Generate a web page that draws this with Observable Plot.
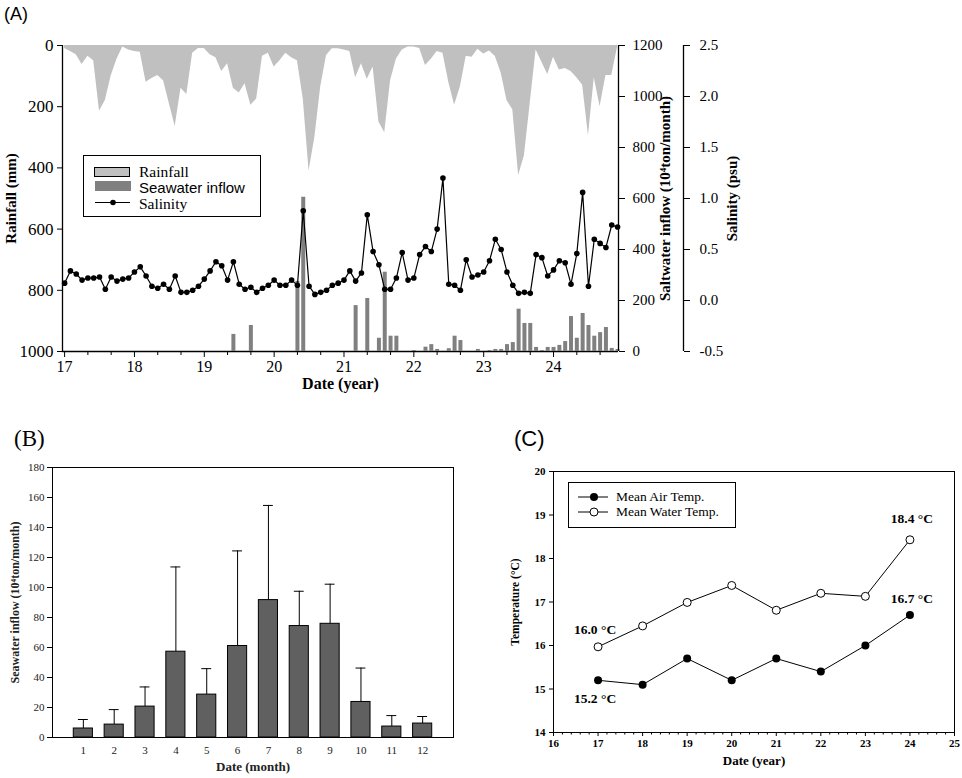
<!DOCTYPE html>
<html>
<head>
<meta charset="utf-8">
<script src="https://cdn.jsdelivr.net/npm/d3@7"></script>
<script src="https://cdn.jsdelivr.net/npm/@observablehq/plot@0.6"></script>
<style>
  html, body { margin: 0; padding: 0; background: #fff; }
  #root { position: relative; width: 962px; height: 778px; overflow: hidden; font-family: "Liberation Serif", "Times New Roman", serif; }
  .abs { position: absolute; }
  .lbl { position: absolute; white-space: nowrap; line-height: 1; }
  .serif { font-family: "Liberation Serif", "Times New Roman", serif; }
  .sans { font-family: "Liberation Sans", Arial, sans-serif; }
  .legend { z-index: 10; }
</style>
</head>
<body>
<div id="root">
  <div class="lbl sans" style="left:4px; top:5px; font-size:18px;">(A)</div>
  <div class="lbl serif" style="left:14px; top:427px; font-size:23px;">(B)</div>
  <div class="lbl sans" style="left:514px; top:428px; font-size:22px;">(C)</div>

  <!-- Panel A legend -->
  <div class="abs legend" style="left:83px; top:155px; width:176px; height:60px; border:1px solid #000; background:#fff;">
    <div class="abs" style="left:10px; top:11px; width:34px; height:8px; background:#c0c0c0; border:1px solid #000;"></div>
    <div class="lbl serif" style="left:55px; top:8px; font-size:15.5px;">Rainfall</div>
    <div class="abs" style="left:11px; top:25px; width:36px; height:10px; background:#808080;"></div>
    <div class="lbl sans" style="left:55px; top:24px; font-size:15px;">Seawater inflow</div>
    <svg class="abs" style="left:11px; top:42px;" width="36" height="9"><line x1="0" y1="4.5" x2="35" y2="4.5" stroke="#000" stroke-width="1.2"/><circle cx="18" cy="4.5" r="2.8" fill="#000"/></svg>
    <div class="lbl serif" style="left:55px; top:40px; font-size:15.5px;">Salinity</div>
  </div>

  <!-- Panel C legend -->
  <div class="abs legend" style="left:568px; top:482px; width:166px; height:44px; border:1px solid #000; background:#fff;">
    <svg class="abs" style="left:9px; top:9px;" width="32" height="10"><line x1="0" y1="5" x2="30" y2="5" stroke="#000" stroke-width="1"/><circle cx="16" cy="5" r="4" fill="#000"/></svg>
    <div class="lbl serif" style="left:47px; top:7px; font-size:13.5px;">Mean Air Temp.</div>
    <svg class="abs" style="left:9px; top:24px;" width="32" height="10"><line x1="0" y1="5" x2="30" y2="5" stroke="#000" stroke-width="1"/><circle cx="16" cy="5" r="4" fill="#fff" stroke="#000" stroke-width="1"/></svg>
    <div class="lbl serif" style="left:47px; top:22px; font-size:13.5px;">Mean Water Temp.</div>
  </div>
</div>
<script>
// ---------------- DATA ----------------
// Panel A: monthly series, Jan 2017 .. Dec 2024
const startYear = 17;
const rainfall = [
  10,20,30,62,35,50,215,180,100,45,5,15,
  20,22,120,108,98,115,190,265,140,160,25,10,
  10,30,40,85,60,140,155,125,195,175,35,25,
  70,50,25,40,50,175,410,300,136,33,11,11,
  15,20,105,60,110,70,250,285,115,45,15,5,
  5,10,65,45,20,25,120,195,135,35,38,12,
  28,18,36,90,180,210,425,360,188,15,55,95,
  38,80,75,85,105,130,295,105,200,98,98,5
];
const seawaterInflow = [
  0,0,0,0,0,0,0,0,0,0,0,0,
  0,0,0,0,0,0,0,0,0,0,0,0,
  0,0,0,0,0,67,0,0,102,0,0,0,
  0,0,0,0,275,605,0,0,0,0,0,0,
  0,0,180,0,208,0,52,311,60,60,0,0,
  4,0,17,27,8,0,11,60,43,0,0,8,
  0,4,8,8,27,35,166,110,110,16,4,16,
  16,24,39,137,52,149,102,60,74,94,12,8
];
const salinity = [
  0.17,0.29,0.26,0.20,0.22,0.22,0.23,0.11,0.23,0.19,0.21,0.22,
  0.28,0.33,0.24,0.14,0.12,0.16,0.11,0.24,0.08,0.08,0.10,0.14,
  0.21,0.29,0.38,0.34,0.20,0.38,0.16,0.11,0.13,0.08,0.12,0.15,
  0.20,0.15,0.15,0.20,0.15,0.88,0.14,0.06,0.08,0.10,0.15,0.17,
  0.20,0.29,0.19,0.27,0.84,0.48,0.35,0.11,0.11,0.22,0.47,0.20,
  0.22,0.45,0.53,0.48,0.70,1.20,0.16,0.15,0.10,0.40,0.23,0.25,
  0.28,0.39,0.60,0.50,0.28,0.15,0.07,0.08,0.07,0.45,0.42,0.24,
  0.30,0.39,0.37,0.16,0.46,1.06,0.14,0.60,0.56,0.52,0.74,0.72
];
const yearTicksA = [17,18,19,20,21,22,23,24];
const rainTicks = [0,200,400,600,800,1000];
const inflowTicks = [0,200,400,600,800,1000,1200];
const salinityTicks = [-0.5,0.0,0.5,1.0,1.5,2.0,2.5];

// Panel B: monthly mean seawater inflow and SD
const monthsB = [1,2,3,4,5,6,7,8,9,10,11,12];
const meanInflow = [6.0,8.6,20.6,57.2,28.6,61.0,91.6,74.3,75.8,23.7,7.3,9.3];
const sdInflow = [6.0,10.0,13.1,56.5,17.3,63.4,63.1,23.2,26.4,22.6,7.3,4.7];
const inflowTicksB = [0,20,40,60,80,100,120,140,160,180];

// Panel C: annual mean temperatures
const yearsC = [17,18,19,20,21,22,23,24];
const airTemp = [15.2,15.1,15.7,15.2,15.7,15.4,16.0,16.7];
const waterTemp = [15.97,16.45,16.99,17.38,16.81,17.2,17.13,18.43];
const yearTicksC = [16,17,18,19,20,21,22,23,24,25];
const tempTicks = [14,15,16,17,18,19,20];
const tempLabels = [
  {year:17, temp:15.97, text:"16.0 °C", dy:-17, dx:-3},
  {year:17, temp:15.2, text:"15.2 °C", dy:18, dx:-3},
  {year:24, temp:18.43, text:"18.4 °C", dy:-21, dx:2},
  {year:24, temp:16.71, text:"16.7 °C", dy:-16, dx:2}
];

// ---------------- BUILD ----------------
const serif = "'Liberation Serif', 'Times New Roman', serif";
const root = document.getElementById("root");
function place(svg, left, top, z) {
  svg.style.position = "absolute";
  svg.style.left = left + "px";
  svg.style.top = top + "px";
  svg.style.background = "transparent";
  svg.style.maxWidth = "none";
  svg.style.overflow = "visible";
  svg.style.fontFamily = serif;
  svg.style.zIndex = z;
  root.appendChild(svg);
}

const monthly = rainfall.map((r, i) => ({
  x: startYear + i / 12, rain: r, inflow: seawaterInflow[i], sal: salinity[i]
}));
const xDomA = [16.97, 24.93];
const minorA = d3.range(0, 24).filter(i => i % 3 !== 0).map(i => startYear + i / 3);
const dimsA = {width: 962, height: 400, marginLeft: 62, marginRight: 344, marginTop: 45, marginBottom: 49};

// Layer 1: rainfall
const a1 = Plot.plot({
  ...dimsA,
  x: {domain: xDomA},
  y: {domain: [0, 1000], reverse: true},
  marks: [
    Plot.areaY(monthly, {x: "x", y: "rain", fill: "#c0c0c0", curve: "linear"}),
    Plot.ruleX([xDomA[0]], {stroke: "#000", strokeWidth: 1.3}),
    Plot.ruleY([1000], {stroke: "#000", strokeWidth: 1.3}),
    Plot.axisY({ticks: rainTicks, tickSize: 5, tickPadding: 4, fontSize: 17, label: null, tickFormat: d => String(d), stroke: "#000"}),
    Plot.axisX({ticks: yearTicksA, tickSize: 6, tickPadding: 3, fontSize: 16, label: null, tickFormat: d => String(d)}),
    Plot.axisX({ticks: minorA, tickSize: 4, label: null, tickFormat: () => ""}),
    Plot.text(["Rainfall (mm)"], {text: d => d, frameAnchor: "left", dx: -51, rotate: -90, textAnchor: "middle", lineAnchor: "middle", fontWeight: "bold", fontSize: 15}),
    Plot.text(["Date (year)"], {text: d => d, frameAnchor: "bottom", dy: 32, textAnchor: "middle", lineAnchor: "middle", fontWeight: "bold", fontSize: 16})
  ]
});
place(a1, 0, 0, 1);

// Layer 2: seawater inflow bars
const a2 = Plot.plot({
  ...dimsA,
  x: {domain: xDomA, axis: null},
  y: {domain: [0, 1200]},
  marks: [
    Plot.ruleX(monthly.filter(d => d.inflow > 0), {x: "x", y1: 0, y2: "inflow", stroke: "#808080", strokeWidth: 4}),
    Plot.ruleX([xDomA[1]], {stroke: "#000", strokeWidth: 1.3}),
    Plot.axisY({anchor: "right", ticks: inflowTicks, tickSize: 6, tickPadding: 8, fontSize: 15, label: null, tickFormat: d => String(d)}),
    Plot.text(["Saltwater inflow (10⁴ton/month)"], {text: d => d, frameAnchor: "right", dx: 47, rotate: -90, textAnchor: "middle", lineAnchor: "middle", fontWeight: "bold", fontSize: 15})
  ]
});
place(a2, 0, 0, 2);

// Layer 3: salinity
const a3 = Plot.plot({
  ...dimsA,
  x: {domain: xDomA, axis: null},
  y: {domain: [-0.5, 2.5]},
  marks: [
    Plot.line(monthly, {x: "x", y: "sal", stroke: "#000", strokeWidth: 1.2}),
    Plot.dot(monthly, {x: "x", y: "sal", r: 2.8, fill: "#000"}),
    Plot.ruleX([xDomA[1]], {dx: 65, stroke: "#000", strokeWidth: 1.3}),
    Plot.axisY({anchor: "right", dx: 65, ticks: salinityTicks, tickSize: 6, tickPadding: 10, fontSize: 15, label: null, tickFormat: d => d.toFixed(1)}),
    Plot.text(["Salinity (psu)"], {text: d => d, frameAnchor: "right", dx: 114, rotate: -90, textAnchor: "middle", lineAnchor: "middle", fontWeight: "bold", fontSize: 15})
  ]
});
place(a3, 0, 0, 3);

// Panel B
const dataB = monthsB.map((m, i) => ({month: m, mean: meanInflow[i], sd: sdInflow[i]}));
const pb = Plot.plot({
  width: 480, height: 358, marginLeft: 52, marginRight: 27, marginTop: 47, marginBottom: 41,
  x: {domain: [0, 13]},
  y: {domain: [0, 180]},
  marks: [
    Plot.ruleX(dataB, {x: "month", y1: "mean", y2: d => d.mean + d.sd, stroke: "#000", strokeWidth: 1}),
    Plot.ruleY(dataB, {x1: d => d.month - 0.16, x2: d => d.month + 0.16, y: d => d.mean + d.sd, stroke: "#000", strokeWidth: 1}),
    Plot.rectY(dataB, {x1: d => d.month - 0.31, x2: d => d.month + 0.31, y: "mean", fill: "#606060", stroke: "#000", strokeWidth: 1}),
    Plot.frame({stroke: "#000"}),
    Plot.axisY({ticks: inflowTicksB, tickSize: 5, tickPadding: 3, fontSize: 11, fill: "#222", label: null, tickFormat: d => String(d)}),
    Plot.axisX({ticks: monthsB, tickSize: 0, tickPadding: 9, fontSize: 11, fill: "#222", label: null, tickFormat: d => String(d)}),
    Plot.text(["Seawater inflow (10⁴ton/month)"], {text: d => d, frameAnchor: "left", dx: -37, rotate: -90, textAnchor: "middle", lineAnchor: "middle", fontWeight: "bold", fontSize: 12, fill: "#222"}),
    Plot.text(["Date (month)"], {text: d => d, frameAnchor: "bottom", dy: 29, textAnchor: "middle", lineAnchor: "middle", fontWeight: "bold", fontSize: 13, fill: "#222"})
  ]
});
place(pb, 0, 420, 1);

// Panel C
const dataC = yearsC.map((y, i) => ({year: y, air: airTemp[i], water: waterTemp[i]}));
const minorC = d3.range(0, 46).filter(i => i % 5 !== 0).map(i => 16 + i / 5);
const pc = Plot.plot({
  width: 482, height: 358, marginLeft: 73, marginRight: 8, marginTop: 51, marginBottom: 46,
  x: {domain: [16, 25]},
  y: {domain: [14, 20]},
  marks: [
    Plot.frame({stroke: "#000"}),
    Plot.line(dataC, {x: "year", y: "air", stroke: "#000", strokeWidth: 1}),
    Plot.line(dataC, {x: "year", y: "water", stroke: "#000", strokeWidth: 1}),
    Plot.dot(dataC, {x: "year", y: "air", r: 4, fill: "#000"}),
    Plot.dot(dataC, {x: "year", y: "water", r: 4, fill: "#fff", stroke: "#000", strokeWidth: 1}),
    ...tempLabels.map(l => Plot.text([l], {x: "year", y: "temp", text: "text", dy: l.dy, dx: l.dx, fontWeight: "bold", fontSize: 13.5})),
    Plot.axisY({ticks: tempTicks, tickSize: 4, tickPadding: 4, fontSize: 11, fontWeight: "bold", label: null, tickFormat: d => String(d)}),
    Plot.axisX({ticks: yearTicksC, tickSize: 4, tickPadding: 3, fontSize: 11, fontWeight: "bold", label: null, tickFormat: d => String(d)}),
    Plot.axisX({ticks: minorC, tickSize: 2.5, label: null, tickFormat: () => ""}),
    Plot.text(["Temperature (°C)"], {text: d => d, frameAnchor: "left", dx: -38, rotate: -90, textAnchor: "middle", lineAnchor: "middle", fontWeight: "bold", fontSize: 11.5}),
    Plot.text(["Date (year)"], {text: d => d, frameAnchor: "bottom", dy: 28, textAnchor: "middle", lineAnchor: "middle", fontWeight: "bold", fontSize: 13})
  ]
});
place(pc, 480, 420, 1);
</script>
</body>
</html>
